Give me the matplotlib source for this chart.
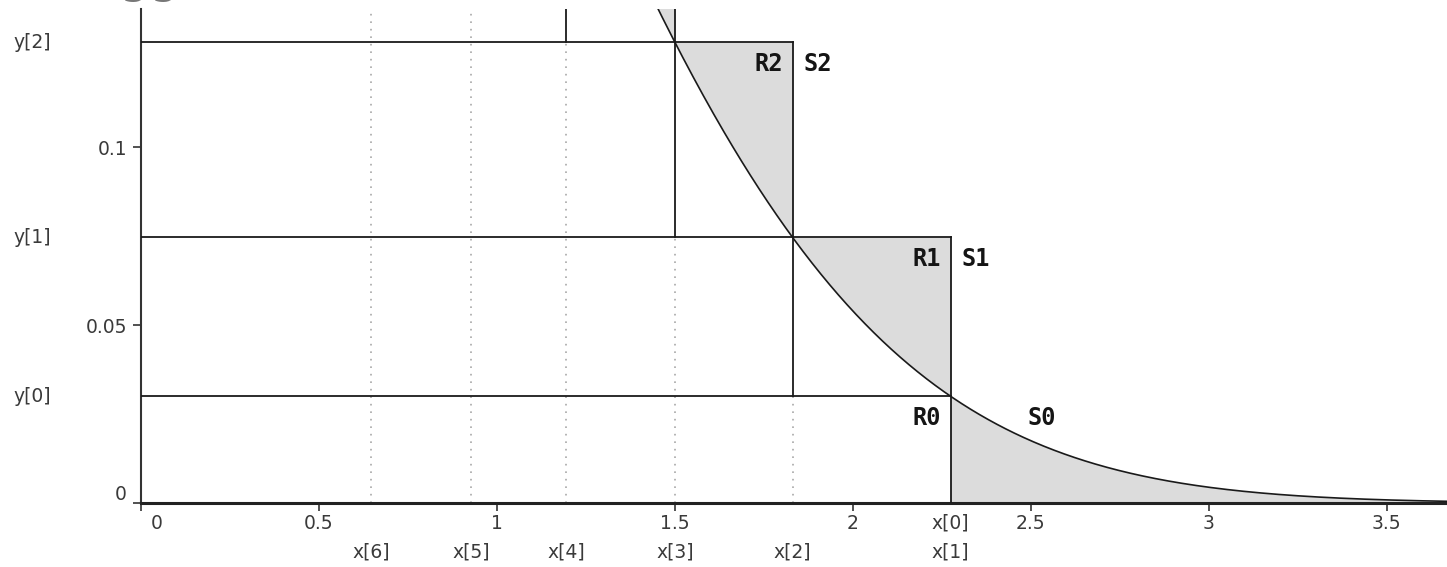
import numpy as np
import matplotlib
matplotlib.use("Agg")
import matplotlib.pyplot as plt
from matplotlib.transforms import ScaledTranslation, blended_transform_factory

# ---- data ----
x_vals = [2.275, 2.275, 1.831, 1.500, 1.194, 0.927, 0.646]      # x[0..6]
y_vals = [0.0300, 0.0747, 0.1295, 0.1956, 0.2625]               # y[0..4]
x_ticks = [0, 0.5, 1, 1.5, 2, 2.5, 3, 3.5]
x_tick_labels = ["0", "0.5", "1", "1.5", "2", "2.5", "3", "3.5"]
y_ticks = [0, 0.05, 0.1]
y_tick_labels = ["0", "0.05", "0.1"]
region_labels = [("R0", "S0"), ("R1", "S1"), ("R2", "S2")]

X_MAX = 3.67
Y_MAX = 0.1388


def pdf(x):
    return np.exp(-np.asarray(x) ** 2 / 2) / np.sqrt(2 * np.pi)


def pdf_inv(y):
    return np.sqrt(-2 * np.log(np.asarray(y) * np.sqrt(2 * np.pi)))


W, H = 1447, 567
fig = plt.figure(figsize=(W / 100, H / 100), dpi=100)
ax = fig.add_axes([141 / W, (H - 503) / H, 1 - 141 / W, (503 - 9) / H])
ax.set_xlim(0, X_MAX)
ax.set_ylim(0, Y_MAX)

line_col = "#1a1a1a"
fill_col = "#dcdcdc"
dot_col = "#a8a8a8"

# shaded tail S0
xt = np.linspace(x_vals[0], X_MAX + 0.1, 300)
ax.fill_between(xt, 0, pdf(xt), color=fill_col, lw=0, zorder=1)
# shaded slivers for layers 1..3
for i in range(1, 4):
    yy = np.linspace(y_vals[i - 1], y_vals[i], 200)
    ax.fill_betweenx(yy, pdf_inv(yy), x_vals[i], color=fill_col, lw=0, zorder=1)

# horizontal lines y[i] from 0 to x[i]
for i in range(4):
    ax.plot([0, x_vals[i]], [y_vals[i], y_vals[i]], color=line_col, lw=1.3, zorder=3)

# vertical solid lines x[i] from y[i-2] to y[i]
for i in range(1, 5):
    lo = 0 if i - 2 < 0 else y_vals[i - 2]
    ax.plot([x_vals[i], x_vals[i]], [lo, y_vals[i]], color=line_col, lw=1.3, zorder=3)
# dotted below
for i in range(2, 7):
    hi = y_vals[i - 2]
    ax.plot([x_vals[i], x_vals[i]], [0, hi], color=dot_col, lw=1.2,
            linestyle=(0, (1, 3.5)), zorder=2)

# curve
xc = np.linspace(1.3, X_MAX + 0.1, 600)
ax.plot(xc, pdf(xc), color=line_col, lw=1.2, zorder=4)

# region labels
mono = dict(family="DejaVu Sans Mono", fontsize=17, fontweight="bold", color="#151515")
for i, (r, s) in enumerate(region_labels):
    ax.annotate(r, (x_vals[i], y_vals[i]), xytext=(-10, -22), textcoords="offset pixels",
                ha="right", va="center", **mono)
    dx = 77 if i == 0 else 11
    ax.annotate(s, (x_vals[i], y_vals[i]), xytext=(dx, -22), textcoords="offset pixels",
                ha="left", va="center", **mono)

# spines
for sp in ["top", "right"]:
    ax.spines[sp].set_visible(False)
ax.spines["left"].set_color("#333333")
ax.spines["left"].set_linewidth(1.5)
ax.spines["bottom"].set_color("#222222")
ax.spines["bottom"].set_linewidth(2.2)

tick_font = dict(fontsize=13.5, color="#3a3a3a")
ax.set_xticks(x_ticks)
ax.set_xticklabels(x_tick_labels, **tick_font)
ax.set_yticks(y_ticks)
ax.set_yticklabels(y_tick_labels, **tick_font)
ax.tick_params(axis="both", length=6, width=1.2, color="#333333", direction="out")
ax.tick_params(axis="x", pad=2)
ax.tick_params(axis="y", pad=4)

# offset the zero labels away from the corner
xl = ax.get_xticklabels()[0]
xl.set_transform(xl.get_transform() + ScaledTranslation(16 / 100, 0, fig.dpi_scale_trans))
yl = ax.get_yticklabels()[0]
yl.set_transform(yl.get_transform() + ScaledTranslation(0, 11 / 100, fig.dpi_scale_trans))

# x[i] labels below axis
to_pix = blended_transform_factory(ax.transData, fig.transFigure)
ax.text(x_vals[0], (H - 523) / H, "x[0]", transform=to_pix, ha="center", va="center", **tick_font)
for i in range(1, 7):
    ax.text(x_vals[i], (H - 552) / H, f"x[{i}]", transform=to_pix,
            ha="center", va="center", **tick_font)

# y[i] labels on the left
ylab = blended_transform_factory(fig.transFigure, ax.transData)
for i in range(3):
    ax.text(13 / W, y_vals[i], f"y[{i}]", transform=ylab, ha="left", va="center",
            clip_on=False, **tick_font)

# title, mostly cropped off the top
fig.text(75 / W, 1 + 8.5 / H, "Ziggurat", fontsize=34, color="#777777",
         va="baseline", ha="left")

fig.savefig("out.png", dpi=100)
